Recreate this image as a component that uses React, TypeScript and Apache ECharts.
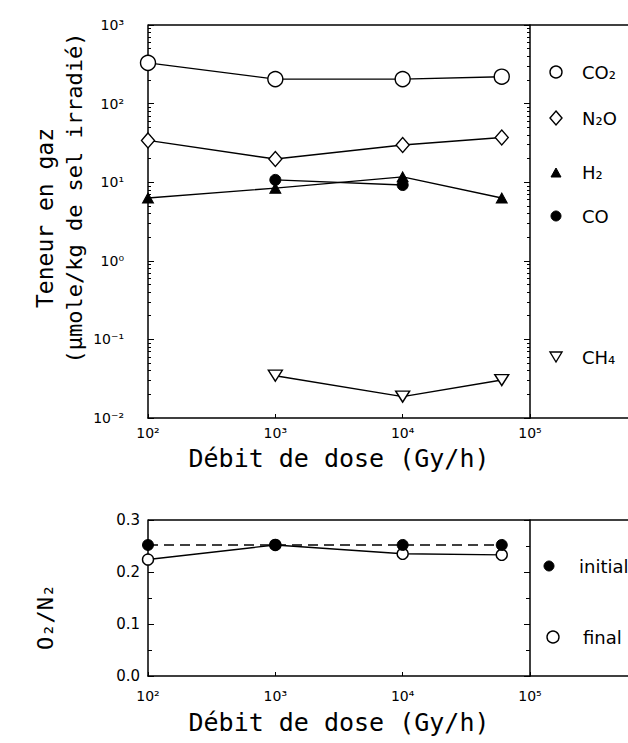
import React, { useEffect, useRef } from 'react';
import * as echarts from 'echarts';

// ---- data ----
const doseRates = [100, 1000, 10000, 60000];
const co2 = [330, 205, 205, 220];
const n2o = [34, 19.7, 29.7, 37];
const h2 = [6.3, 8.4, 11.7, 6.3];
const coDose = [1000, 10000];
const co = [10.7, 9.2];
const ch4Dose = [1000, 10000, 60000];
const ch4 = [0.0345, 0.0187, 0.0304];
const o2n2Initial = [0.252, 0.252, 0.252, 0.252];
const o2n2Final = [0.224, 0.252, 0.235, 0.233];

const FONT = '"DejaVu Sans", sans-serif';
const MONO = '"DejaVu Sans Mono", monospace';
const SUP: Record<string, string> = { '-': '⁻', '0': '⁰', '1': '¹', '2': '²', '3': '³', '4': '⁴', '5': '⁵', '6': '⁶', '7': '⁷', '8': '⁸', '9': '⁹' };
const pow10 = (v: number) => '10' + String(Math.round(Math.log10(v))).split('').map((c) => SUP[c] || c).join('');
const zip = (xs: number[], ys: number[]) => xs.map((x, i) => [x, ys[i]]);

const openStyle = { color: '#fff', borderColor: '#000', borderWidth: 1.4 };
const filledStyle = { color: '#000', borderColor: '#000', borderWidth: 1 };
const line = { color: '#000', width: 1.4 };

export default function App() {
  const ref = useRef<HTMLDivElement>(null);
  useEffect(() => {
    if (!ref.current) return;
    const chart = echarts.init(ref.current, undefined, { renderer: 'svg' });
    const axisLineStyle = { lineStyle: { color: '#000', width: 1.5 } };
    const labelStyle = { color: '#000', fontFamily: FONT, fontSize: 14 };
    const nameStyle = { color: '#000', fontFamily: MONO, fontSize: 25 };
    const tick = { show: true, inside: true, length: 6, lineStyle: { color: '#000' } };
    chart.setOption({
      animation: false,
      backgroundColor: '#fff',
      grid: [
        { left: 148, top: 25, width: 382, height: 393 },
        { left: 148, top: 520, width: 382, height: 156 },
      ],
      xAxis: [
        {
          type: 'log', gridIndex: 0, min: 100, max: 100000, logBase: 10, splitNumber: 3,
          axisLine: axisLineStyle, axisTick: { inside: true, length: 4, lineStyle: { color: '#000' } },
          splitLine: { show: false },
          axisLabel: { ...labelStyle, formatter: (v: number) => pow10(v), margin: 8 },
          name: 'Débit de dose (Gy/h)', nameLocation: 'middle', nameGap: 28, nameTextStyle: nameStyle,
        },
        {
          type: 'log', gridIndex: 1, min: 100, max: 100000, logBase: 10, splitNumber: 3,
          axisLine: axisLineStyle, axisTick: { inside: true, length: 4, lineStyle: { color: '#000' } },
          splitLine: { show: false },
          axisLabel: { ...labelStyle, formatter: (v: number) => pow10(v), margin: 13 },
          name: 'Débit de dose (Gy/h)', nameLocation: 'middle', nameGap: 34, nameTextStyle: nameStyle,
        },
      ],
      yAxis: [
        {
          type: 'log', gridIndex: 0, min: 0.01, max: 1000, logBase: 10, splitNumber: 5,
          axisLine: { show: true, ...axisLineStyle }, axisTick: tick,
          minorTick: { show: true, splitNumber: 9, length: 3, lineStyle: { color: '#000' } },
          splitLine: { show: false },
          axisLabel: { ...labelStyle, formatter: (v: number) => pow10(v), margin: 24 },
        },
        {
          type: 'log', gridIndex: 0, position: 'right', min: 0.01, max: 1000, logBase: 10, splitNumber: 5,
          axisLine: { show: true, ...axisLineStyle }, axisTick: tick,
          minorTick: { show: true, splitNumber: 9, length: 3, lineStyle: { color: '#000' } },
          splitLine: { show: false }, axisLabel: { show: false },
        },
        {
          type: 'value', gridIndex: 1, min: 0, max: 0.3, interval: 0.1,
          axisLine: { show: true, ...axisLineStyle }, axisTick: tick,
          minorTick: { show: true, splitNumber: 2, length: 4, lineStyle: { color: '#000' } },
          splitLine: { show: false },
          axisLabel: { ...labelStyle, fontSize: 15, formatter: (v: number) => v.toFixed(1), margin: 8 },
        },
        {
          type: 'value', gridIndex: 1, position: 'right', min: 0, max: 0.3, interval: 0.1,
          axisLine: { show: true, ...axisLineStyle }, axisTick: tick,
          minorTick: { show: true, splitNumber: 2, length: 4, lineStyle: { color: '#000' } },
          splitLine: { show: false }, axisLabel: { show: false },
        },
      ],
      series: [
        { name: 'CO₂', type: 'line', xAxisIndex: 0, yAxisIndex: 0, data: zip(doseRates, co2), symbol: 'circle', symbolSize: 15, itemStyle: openStyle, lineStyle: line },
        { name: 'N₂O', type: 'line', xAxisIndex: 0, yAxisIndex: 0, data: zip(doseRates, n2o), symbol: 'diamond', symbolSize: [13, 15], itemStyle: openStyle, lineStyle: line },
        { name: 'CO', type: 'line', xAxisIndex: 0, yAxisIndex: 0, data: zip(coDose, co), symbol: 'circle', symbolSize: 11, itemStyle: filledStyle, lineStyle: line },
        { name: 'H₂', type: 'line', xAxisIndex: 0, yAxisIndex: 0, data: zip(doseRates, h2), symbol: 'triangle', symbolSize: [11, 10], itemStyle: filledStyle, lineStyle: line },
        { name: 'CH₄', type: 'line', xAxisIndex: 0, yAxisIndex: 0, data: zip(ch4Dose, ch4), symbol: 'triangle', symbolRotate: 180, symbolSize: [14, 11], itemStyle: openStyle, lineStyle: line },
        { name: 'final', type: 'line', xAxisIndex: 1, yAxisIndex: 2, data: zip(doseRates, o2n2Final), symbol: 'circle', symbolSize: 11, itemStyle: openStyle, lineStyle: line },
        { name: 'initial', type: 'line', xAxisIndex: 1, yAxisIndex: 2, data: zip(doseRates, o2n2Initial), symbol: 'circle', symbolSize: 11, itemStyle: filledStyle, lineStyle: { color: '#000', width: 1.4, type: [10, 6] } },
      ],
      graphic: [
        // frame extensions around legend boxes
        { type: 'line', shape: { x1: 148, y1: 25, x2: 628, y2: 25 }, style: { stroke: '#000', lineWidth: 1.5 } },
        { type: 'line', shape: { x1: 530, y1: 418, x2: 628, y2: 418 }, style: { stroke: '#000', lineWidth: 1.5 } },
        { type: 'line', shape: { x1: 148, y1: 520, x2: 628, y2: 520 }, style: { stroke: '#000', lineWidth: 1.5 } },
        { type: 'line', shape: { x1: 530, y1: 676, x2: 628, y2: 676 }, style: { stroke: '#000', lineWidth: 1.5 } },
        // y-axis titles
        { type: 'text', x: 45, y: 218, rotation: Math.PI / 2, style: { text: 'Teneur en gaz', font: `23px ${MONO}`, fill: '#000', align: 'center', verticalAlign: 'middle' } },
        { type: 'text', x: 74, y: 198, rotation: Math.PI / 2, style: { text: '(μmole/kg de sel irradié)', font: `22px ${MONO}`, fill: '#000', align: 'center', verticalAlign: 'middle' } },
        { type: 'text', x: 45, y: 617, rotation: Math.PI / 2, style: { text: 'O₂/N₂', font: `22px ${MONO}`, fill: '#000', align: 'center', verticalAlign: 'middle' } },
        // top legend
        { type: 'circle', shape: { cx: 556, cy: 72, r: 6 }, style: { fill: '#fff', stroke: '#000', lineWidth: 1.4 } },
        { type: 'text', x: 582, y: 72, style: { text: 'CO₂', font: `18px ${FONT}`, fill: '#000', verticalAlign: 'middle' } },
        { type: 'polygon', shape: { points: [[556, 111], [562, 118], [556, 125], [550, 118]] }, style: { fill: '#fff', stroke: '#000', lineWidth: 1.4 } },
        { type: 'text', x: 582, y: 118, style: { text: 'N₂O', font: `18px ${FONT}`, fill: '#000', verticalAlign: 'middle' } },
        { type: 'polygon', shape: { points: [[556, 168], [561, 177], [551, 177]] }, style: { fill: '#000', stroke: '#000', lineWidth: 1 } },
        { type: 'text', x: 582, y: 172, style: { text: 'H₂', font: `18px ${FONT}`, fill: '#000', verticalAlign: 'middle' } },
        { type: 'circle', shape: { cx: 556, cy: 216, r: 5 }, style: { fill: '#000', stroke: '#000', lineWidth: 1 } },
        { type: 'text', x: 582, y: 216, style: { text: 'CO', font: `18px ${FONT}`, fill: '#000', verticalAlign: 'middle' } },
        { type: 'polygon', shape: { points: [[550, 352], [562, 352], [556, 362]] }, style: { fill: '#fff', stroke: '#000', lineWidth: 1.4 } },
        { type: 'text', x: 582, y: 357, style: { text: 'CH₄', font: `18px ${FONT}`, fill: '#000', verticalAlign: 'middle' } },
        // bottom legend
        { type: 'circle', shape: { cx: 549, cy: 566, r: 5 }, style: { fill: '#000', stroke: '#000', lineWidth: 1 } },
        { type: 'text', x: 579, y: 566, style: { text: 'initial', font: `18px ${FONT}`, fill: '#000', verticalAlign: 'middle' } },
        { type: 'circle', shape: { cx: 553, cy: 637, r: 6 }, style: { fill: '#fff', stroke: '#000', lineWidth: 1.4 } },
        { type: 'text', x: 583, y: 637, style: { text: 'final', font: `18px ${FONT}`, fill: '#000', verticalAlign: 'middle' } },
      ],
    });
    return () => chart.dispose();
  }, []);
  return <div ref={ref} style={{ position: 'absolute', left: 0, top: 0, width: 628, height: 743 }} />;
}
